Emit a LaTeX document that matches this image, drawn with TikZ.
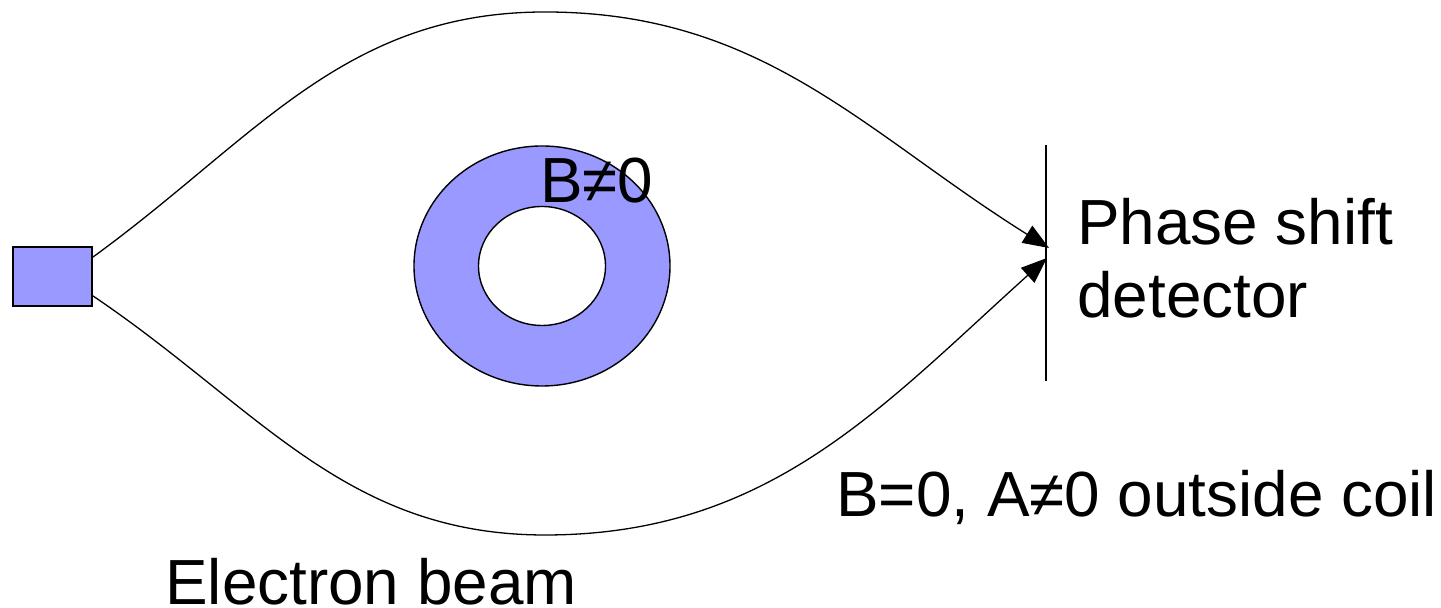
\documentclass[tikz,border=0pt]{standalone}
\usepackage{fontspec}
\setmainfont{Liberation Sans}
\usetikzlibrary{arrows.meta,positioning,shapes.geometric}
\definecolor{Coil}{HTML}{9999FF}
\definecolor{Ink}{HTML}{000000}
\tikzset{
  gunbox/.style={rectangle,draw=Ink,line width=.9pt,fill=Coil,minimum width=39.5pt,minimum height=29.5pt,inner sep=0pt},
  ring/.style={ellipse,draw=Ink,line width=.7pt,inner sep=0pt},
  beam/.style={line width=.65pt,draw=Ink,-{Triangle[length=13pt,width=10pt]}},
  plate/.style={line width=.8pt,draw=Ink},
  lab/.style={font=\fontsize{31.9}{36}\selectfont,inner sep=0pt,anchor=base west}
}
\begin{document}
\begin{tikzpicture}[x=.5pt,y=.5pt]
    \useasboundingbox (0,0) rectangle (1441,608);
    % source and coil
    \node[gunbox] (gun) at (52.5,331.5) {};
    \node[ring,fill=Coil,minimum width=128pt,minimum height=120pt] (coil) at (542,342) {};
    \node[ring,fill=white,minimum width=63.5pt,minimum height=59.5pt] (hole) at (542,342) {};
    % detector screen
    \coordinate (dtop) at (1046,463); \coordinate (dbot) at (1046,227);
    \draw[plate] (dtop)--(dbot);
    \coordinate (hitA) at (1049,360); \coordinate (hitB) at (1047,350);
    \coordinate (up) at (545,596); \coordinate (down) at (545,73);
    % two paths round the coil
    \draw[beam] (gun.north east)+(0,-11) to[out=36,in=180] (up) to[out=0,in=148] (hitA);
    \draw[beam] (gun.south east)+(0,11) to[out=-34,in=180] (down) to[out=0,in=-138] (hitB);
    % labels
    \node[lab] (bin) at (540,405) {B≠0};
    \node[lab] (det1) at (1077,363) {Phase shift};
    \node[lab] (det2) at (1077,290) {detector};
    \node[lab] (bout) at (836,91) {B=0, A≠0 outside coil};
    \node[lab] (ebeam) at (165,3) {Electron beam};
\end{tikzpicture}
\end{document}
